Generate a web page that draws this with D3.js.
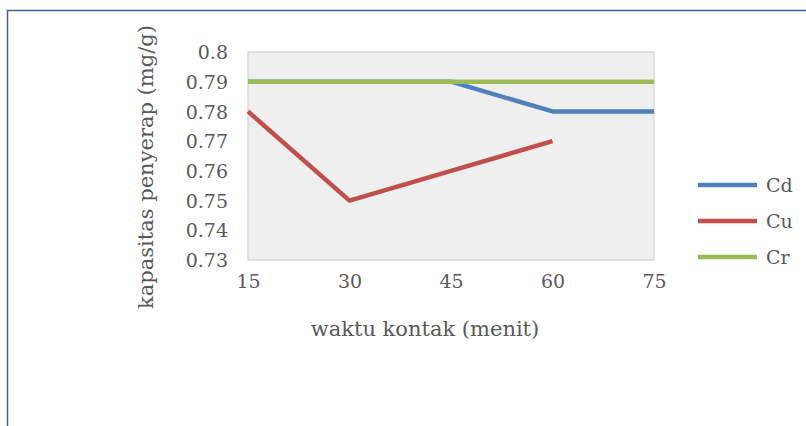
<!DOCTYPE html>
<html>
<head>
<meta charset="utf-8">
<script src="https://cdn.jsdelivr.net/npm/d3@7"></script>
<style>
  body { margin: 0; background: #fff; }
  text { font-family: "DejaVu Serif", "Liberation Serif", serif; fill: #595959; }
</style>
</head>
<body>
<svg id="chart" width="806" height="426"></svg>
<script>
// data
const times = ["15", "30", "45", "60", "75"]
const cd_vals = [0.79, 0.79, 0.79, 0.78, 0.78]
const cu_vals = [0.78, 0.75, 0.76, 0.77, null]
const cr_vals = [0.79, 0.79, 0.79, 0.79, 0.79]
const y_ticks = [0.73, 0.74, 0.75, 0.76, 0.77, 0.78, 0.79, 0.8]
const series_names = ["Cd", "Cu", "Cr"]
const series_colors = ["#4f81bd", "#c0504d", "#9bbb59"]

const svg = d3.select("#chart")
const plot = {left: 248, right: 654, top: 52, bottom: 260}

// outer frame (runs past the right and bottom edge)
svg.append("rect")
  .attr("x", 7.5).attr("y", 10.5)
  .attr("width", 830).attr("height", 440)
  .attr("fill", "none")
  .attr("stroke", "#3c5f94")
  .attr("stroke-width", 1.5)

const x = d3.scalePoint().domain(times).range([plot.left, plot.right]).padding(0)
const y = d3.scaleLinear().domain([0.73, 0.8]).range([plot.bottom, plot.top])

svg.append("rect")
  .attr("x", plot.left).attr("y", plot.top)
  .attr("width", plot.right - plot.left).attr("height", plot.bottom - plot.top)
  .attr("fill", "#efefef")
  .attr("stroke", "#d9d9d9")
  .attr("stroke-width", 1.5)

// y axis labels
const y_axis = d3.axisLeft(y).tickValues(y_ticks).tickSize(0).tickPadding(20)
  .tickFormat(d => d3.format("")(+d.toFixed(2)))
const gy = svg.append("g").attr("transform", `translate(${plot.left},0)`).call(y_axis)
gy.select(".domain").remove()
gy.selectAll("text").style("font-size", "19px").attr("dy", "0.35em")
  .style("font-family", "'DejaVu Serif', serif")

// x axis labels
const x_axis = d3.axisBottom(x).tickSize(0).tickPadding(15)
const gx = svg.append("g").attr("transform", `translate(0,${plot.bottom})`).call(x_axis)
gx.select(".domain").remove()
gx.selectAll("text").style("font-size", "19px")
  .style("font-family", "'DejaVu Serif', serif")

// lines
const all_series = [cd_vals, cu_vals, cr_vals]
const line = d3.line()
  .defined(d => d != null)
  .x((d, i) => x(times[i]))
  .y(d => y(d))

all_series.forEach((vals, i) => {
  svg.append("path")
    .datum(vals)
    .attr("d", line)
    .attr("fill", "none")
    .attr("stroke", series_colors[i])
    .attr("stroke-width", 4.5)
    .attr("stroke-linejoin", "round")
})

// axis titles
svg.append("text")
  .attr("x", 425).attr("y", 336)
  .attr("text-anchor", "middle")
  .style("font-size", "21px")
  .text("waktu kontak (menit)")

svg.append("text")
  .attr("transform", "translate(153,167) rotate(-90)")
  .attr("text-anchor", "middle")
  .style("font-size", "21px")
  .text("kapasitas penyerap (mg/g)")

// legend
const legend = svg.append("g")
series_names.forEach((name, i) => {
  const ly = 185 + i * 36
  legend.append("line")
    .attr("x1", 698).attr("x2", 757)
    .attr("y1", ly).attr("y2", ly)
    .attr("stroke", series_colors[i])
    .attr("stroke-width", 4.5)
  legend.append("text")
    .attr("x", 766).attr("y", ly)
    .attr("dy", "0.35em")
    .style("font-size", "19px")
    .text(name)
})
</script>
</body>
</html>
